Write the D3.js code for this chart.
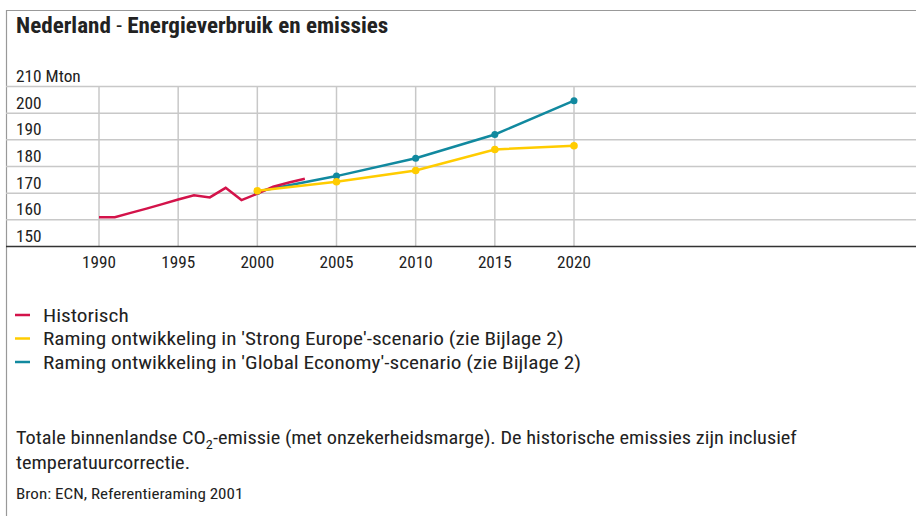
<!DOCTYPE html>
<html>
<head>
<meta charset="utf-8">
<script src="https://cdn.jsdelivr.net/npm/d3@7"></script>
<style>
  html, body { margin: 0; padding: 0; background: #fff; }
  svg { display: block; }
  text { font-family: "Roboto Condensed", "Liberation Sans Narrow", "Arial Narrow", sans-serif; fill: #222; }
</style>
</head>
<body>
<svg id="chart" width="916" height="516"></svg>
<script>
const years = [1990, 1995, 2000, 2005, 2010, 2015, 2020];
const yTicks = [150, 160, 170, 180, 190, 200, 210];
const histYears = [1990, 1991, 1992, 1993, 1994, 1995, 1996, 1997, 1998, 1999, 2000, 2001, 2002, 2003];
const histValues = [161, 161, 162.6, 164.2, 165.9, 167.6, 169.2, 168.4, 172, 167.4, 169.8, 172.4, 174, 175.4];
const projYears = [2000, 2005, 2010, 2015, 2020];
const strongEurope = [170.9, 174.3, 178.5, 186.4, 187.8];
const globalEconomy = [170.6, 176.4, 183.1, 192, 204.7];
const legendLabels = [
  "Historisch",
  "Raming ontwikkeling in 'Strong Europe'-scenario (zie Bijlage 2)",
  "Raming ontwikkeling in 'Global Economy'-scenario (zie Bijlage 2)"
];
const colors = ["#d3134a", "#ffcc00", "#11899f"];

const svg = d3.select("#chart");
const x = d3.scaleLinear().domain([1990, 2020]).range([99, 574]);
const y = d3.scaleLinear().domain([150, 210]).range([246.5, 86.5]);

// helper: place stretched text
function place(sel, px, py, sx) {
  return sel.attr("x", 0).attr("y", 0)
    .attr("transform", (d, i) => {
      const X = typeof px === "function" ? px(d, i) : px;
      const Y = typeof py === "function" ? py(d, i) : py;
      return `translate(${X},${Y}) scale(${sx},1)`;
    });
}

// frame
svg.append("line").attr("x1", 6.5).attr("x2", 6.5).attr("y1", 10).attr("y2", 516)
  .attr("stroke", "#999").attr("stroke-width", 1.2);
svg.append("line").attr("x1", 6).attr("x2", 916).attr("y1", 10.5).attr("y2", 10.5)
  .attr("stroke", "#999").attr("stroke-width", 1.2);

// title
const title = place(svg.append("text"), 16, 33, 1.05)
  .style("font-size", "22px").style("font-weight", "bold").attr("fill", "#111");
title.append("tspan").text("Nederland");
title.append("tspan").style("font-weight", "normal").text(" - ");
title.append("tspan").text("Energieverbruik en emissies");

// horizontal grid
svg.append("g").selectAll("line").data(yTicks.slice(1)).join("line")
  .attr("x1", 6).attr("x2", 916)
  .attr("y1", d => y(d)).attr("y2", d => y(d))
  .attr("stroke", "#c8c8c8").attr("stroke-width", 1.5);
// vertical grid
svg.append("g").selectAll("line").data(years).join("line")
  .attr("x1", d => x(d)).attr("x2", d => x(d))
  .attr("y1", y(210)).attr("y2", y(150))
  .attr("stroke", "#c8c8c8").attr("stroke-width", 1.5);
// axis baseline
svg.append("line").attr("x1", 6).attr("x2", 916).attr("y1", y(150)).attr("y2", y(150))
  .attr("stroke", "#333").attr("stroke-width", 1.5);

// y labels
place(svg.append("g").selectAll("text").data(yTicks).join("text"), 16, d => y(d) - 4.5, 1.05)
  .style("font-size", "16.5px")
  .text(d => d === 210 ? "210 Mton" : d);

// x labels
place(svg.append("g").selectAll("text").data(years).join("text"), d => x(d), 268, 1.04)
  .attr("text-anchor", "middle")
  .style("font-size", "16.5px")
  .text(d => d);

const line = d3.line().x(d => x(d[0])).y(d => y(d[1]));

// series
const ge = projYears.map((yr, i) => [yr, globalEconomy[i]]);
const se = projYears.map((yr, i) => [yr, strongEurope[i]]);
const hi = histYears.map((yr, i) => [yr, histValues[i]]);

svg.append("path").datum(ge).attr("d", line).attr("fill", "none")
  .attr("stroke", colors[2]).attr("stroke-width", 2.5);
svg.append("g").selectAll("circle").data(ge).join("circle")
  .attr("cx", d => x(d[0])).attr("cy", d => y(d[1])).attr("r", 3.5).attr("fill", colors[2]);

svg.append("path").datum(hi).attr("d", line).attr("fill", "none")
  .attr("stroke", colors[0]).attr("stroke-width", 2.5);

svg.append("path").datum(se).attr("d", line).attr("fill", "none")
  .attr("stroke", colors[1]).attr("stroke-width", 2.5);
svg.append("g").selectAll("circle").data(se).join("circle")
  .attr("cx", d => x(d[0])).attr("cy", d => y(d[1])).attr("r", 3.8).attr("fill", colors[1]);

// legend
const lg = svg.append("g").selectAll("g").data(legendLabels).join("g")
  .attr("transform", (d, i) => `translate(0, ${315 + i * 23.5})`);
lg.append("line").attr("x1", 15).attr("x2", 30).attr("y1", 0).attr("y2", 0)
  .attr("stroke", (d, i) => colors[i]).attr("stroke-width", 2.5);
place(lg.append("text"), 43, 6.5, 1.15).style("font-size", "18.5px").text(d => d);

// footnote
const fn = place(svg.append("text"), 16, 444, 1.1).style("font-size", "18.5px");
fn.append("tspan").text("Totale binnenlandse CO");
fn.append("tspan").attr("dy", 5).style("font-size", "13px").text("2");
fn.append("tspan").attr("dy", -5).text("-emissie (met onzekerheidsmarge). De historische emissies zijn inclusief");
place(svg.append("text"), 16, 469, 1.1).style("font-size", "18.5px").text("temperatuurcorrectie.");
place(svg.append("text"), 16, 499, 1.1).style("font-size", "15.5px").text("Bron: ECN, Referentieraming 2001");
</script>
</body>
</html>
